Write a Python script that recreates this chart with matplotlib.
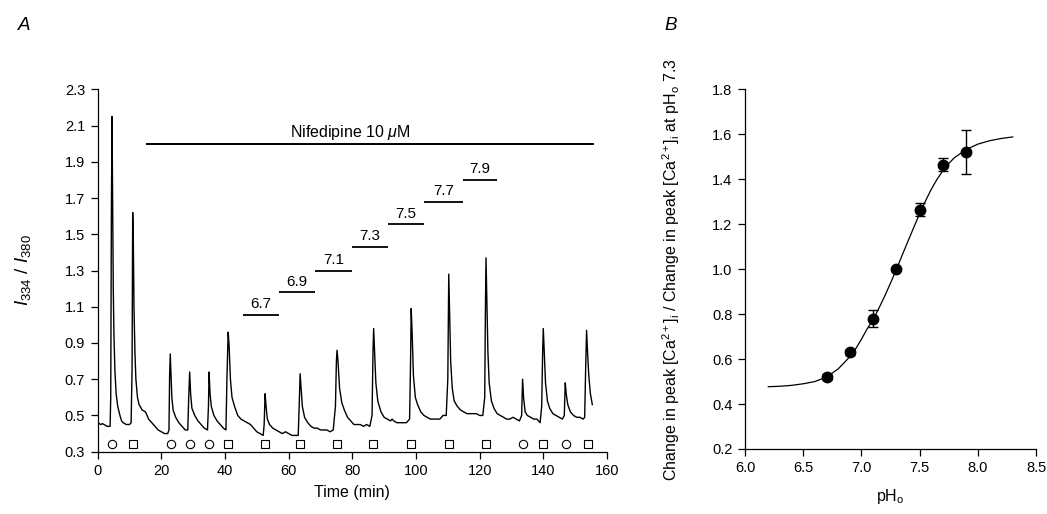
import matplotlib
matplotlib.use("Agg")
import matplotlib.pyplot as plt

plt.rcParams['font.family'] = ['Liberation Sans', 'DejaVu Sans']
plt.rcParams['mathtext.fontset'] = 'custom'
plt.rcParams['mathtext.rm'] = 'Liberation Sans'
plt.rcParams['mathtext.it'] = 'Liberation Sans:italic'
plt.rcParams['mathtext.bf'] = 'Liberation Sans:bold'

# ---------------- Panel A data ----------------
time_min = [0.0, 0.5, 1.0, 1.5, 2.0, 2.5, 3.0, 3.5, 3.9, 4.1, 4.3, 4.5, 4.7, 4.9, 5.1, 5.4, 5.8, 6.3, 7.0, 7.5,
            8.0, 9.0, 10.0, 10.5, 10.8, 11.0, 11.2, 11.4, 11.7, 12.0, 12.5, 13.0, 14.0, 15.0, 16.0, 17.0, 18.0,
            19.0, 20.0, 21.0, 22.0, 22.4, 22.6, 22.8, 23.0, 23.3, 23.7, 24.5, 25.5, 26.5, 27.5, 28.3, 28.6,
            28.9, 29.2, 29.6, 30.5, 31.5, 32.5, 33.5, 34.5, 34.8, 35.0, 35.3, 35.7, 36.5, 37.5, 38.5, 39.5,
            40.3, 40.6, 41.0, 41.3, 41.7, 42.2, 43.0, 44.0, 45.0, 46.0, 47.0, 48.0, 49.0, 50.0, 51.0, 52.0,
            52.3, 52.6, 52.9, 53.3, 54.0, 55.0, 56.0, 57.0, 58.0, 59.0, 60.0, 61.0, 62.0, 63.0, 63.3, 63.6,
            63.9, 64.3, 65.0, 66.0, 67.0, 68.0, 69.0, 70.0, 71.0, 72.0, 73.0, 74.0, 74.7, 75.0, 75.2, 75.5,
            76.0, 76.7, 77.5, 78.5, 79.5, 80.5, 81.5, 82.5, 83.5, 84.5, 85.5, 86.2, 86.5, 86.7, 87.0, 87.4,
            88.0, 89.0, 90.0, 91.0, 92.0, 92.5, 93.0, 94.0, 95.0, 96.0, 97.0, 98.0, 98.3, 98.5, 98.8, 99.2,
            99.8, 100.5, 101.5, 102.5, 103.5, 104.5, 105.5, 106.5, 107.5, 108.5, 109.5, 110.0, 110.3, 110.6,
            110.9, 111.4, 112.0, 113.0, 114.0, 115.0, 116.0, 117.0, 118.0, 119.0, 120.0, 121.0, 121.6, 121.8,
            122.0, 122.3, 122.6, 123.0, 123.7, 124.5, 125.5, 126.5, 127.5, 128.5, 129.5, 130.5, 131.5, 132.5,
            133.2, 133.5, 133.8, 134.3, 135.0, 136.0, 137.0, 138.0, 139.0, 139.5, 139.8, 140.0, 140.3, 140.7,
            141.3, 142.0, 143.0, 144.0, 145.0, 146.0, 146.6, 146.9, 147.2, 147.7, 148.5, 149.5, 150.5, 151.5,
            152.5, 153.0, 153.3, 153.6, 153.9, 154.3, 154.8, 155.4]
ratio = [0.46, 0.455, 0.45, 0.455, 0.45, 0.445, 0.44, 0.44, 0.44, 0.60, 1.60, 2.15, 1.65, 1.20, 0.95, 0.75, 0.62, 0.55, 0.50, 0.47,
         0.46, 0.45, 0.45, 0.46, 0.75, 1.62, 1.45, 1.10, 0.85, 0.70, 0.60, 0.56, 0.53, 0.52, 0.48, 0.46, 0.44,
         0.42, 0.41, 0.40, 0.40, 0.42, 0.72, 0.84, 0.75, 0.60, 0.53, 0.49, 0.46, 0.44, 0.42, 0.42, 0.60,
         0.74, 0.62, 0.54, 0.50, 0.47, 0.45, 0.43, 0.42, 0.55, 0.74, 0.62, 0.55, 0.50, 0.47, 0.45, 0.43,
         0.42, 0.70, 0.96, 0.88, 0.70, 0.60, 0.55, 0.50, 0.48, 0.47, 0.46, 0.45, 0.43, 0.41, 0.40, 0.39,
         0.45, 0.62, 0.55, 0.48, 0.45, 0.43, 0.42, 0.41, 0.40, 0.41, 0.40, 0.39, 0.39, 0.39, 0.55, 0.73,
         0.65, 0.55, 0.49, 0.46, 0.44, 0.43, 0.43, 0.42, 0.42, 0.42, 0.41, 0.42, 0.55, 0.80, 0.86, 0.80,
         0.65, 0.57, 0.53, 0.49, 0.47, 0.45, 0.45, 0.45, 0.44, 0.45, 0.44, 0.50, 0.85, 0.98, 0.85, 0.68,
         0.58, 0.52, 0.49, 0.48, 0.47, 0.48, 0.47, 0.46, 0.46, 0.46, 0.46, 0.48, 0.80, 1.09, 0.95, 0.72,
         0.60, 0.56, 0.52, 0.50, 0.49, 0.48, 0.48, 0.48, 0.48, 0.50, 0.50, 0.70, 1.28, 1.05,
         0.80, 0.65, 0.58, 0.55, 0.53, 0.52, 0.51, 0.51, 0.51, 0.51, 0.50, 0.50, 0.60, 1.05,
         1.37, 1.10, 0.85, 0.68, 0.58, 0.54, 0.51, 0.50, 0.49, 0.48, 0.48, 0.49, 0.48, 0.47,
         0.50, 0.70, 0.60, 0.52, 0.50, 0.49, 0.48, 0.48, 0.46, 0.55, 0.85, 0.98, 0.85, 0.68,
         0.58, 0.54, 0.51, 0.50, 0.49, 0.48, 0.50, 0.68, 0.62, 0.56, 0.52, 0.50, 0.49, 0.49,
         0.48, 0.49, 0.75, 0.97, 0.85, 0.72, 0.62, 0.56]

circle_times = [4.5, 22.9, 28.9, 35.0, 133.5, 147.0]
square_times = [11.1, 41.0, 52.5, 63.7, 75.2, 86.6, 98.5, 110.3, 122.0, 140.0, 154.0]
marker_level = 0.343

nifedipine_start, nifedipine_end, nifedipine_level = 15.3, 156.0, 2.0
nifedipine_text = "Nifedipine 10 $\\mu$M"
nifedipine_text_x = 79.5

ph_labels = ["6.7", "6.9", "7.1", "7.3", "7.5", "7.7", "7.9"]
ph_start = [45.5, 56.9, 68.4, 80.0, 91.2, 102.6, 114.7]
ph_end = [56.9, 68.4, 80.0, 91.2, 102.6, 114.7, 125.4]
ph_level = [1.055, 1.18, 1.30, 1.43, 1.555, 1.68, 1.80]

a_yticks = [0.3, 0.5, 0.7, 0.9, 1.1, 1.3, 1.5, 1.7, 1.9, 2.1, 2.3]
a_xticks = [0, 20, 40, 60, 80, 100, 120, 140, 160]

# ---------------- Panel B data ----------------
ph_points = [6.7, 6.9, 7.1, 7.3, 7.5, 7.7, 7.9]
rel_change = [0.52, 0.63, 0.78, 1.00, 1.265, 1.465, 1.52]
rel_err = [0.012, 0.012, 0.036, 0.0, 0.03, 0.03, 0.097]

fit_ph = [6.2, 6.3, 6.4, 6.5, 6.6, 6.7, 6.8, 6.9, 6.95, 7.0, 7.05, 7.1, 7.15, 7.2, 7.25, 7.3, 7.35, 7.4,
          7.45, 7.5, 7.55, 7.6, 7.65, 7.7, 7.75, 7.8, 7.9, 8.0, 8.1, 8.2, 8.3]
fit_val = [0.477, 0.479, 0.483, 0.490, 0.500, 0.520, 0.556, 0.610, 0.645, 0.688, 0.735, 0.775, 0.826, 0.880,
           0.938, 0.998, 1.062, 1.124, 1.186, 1.246, 1.303, 1.355, 1.400, 1.438, 1.470, 1.496, 1.532, 1.556,
           1.571, 1.581, 1.588]

b_xticks = [6.0, 6.5, 7.0, 7.5, 8.0, 8.5]
b_yticks = [0.2, 0.4, 0.6, 0.8, 1.0, 1.2, 1.4, 1.6, 1.8]

# ---------------- Figure ----------------
fig = plt.figure(figsize=(10.47, 5.14), dpi=100)
fig.patch.set_facecolor('white')

tick_fs = 10.5

def style_axes(ax):
    for s in ['top', 'right']:
        ax.spines[s].set_visible(False)
    for s in ['left', 'bottom']:
        ax.spines[s].set_linewidth(0.9)
    ax.tick_params(direction='out', length=5, width=0.9, labelsize=tick_fs, pad=4)

# Panel A
axA = fig.add_axes([0.0933, 0.1212, 0.4864, 0.705])
axA.plot(time_min, ratio, color='black', lw=1.0)
axA.plot(circle_times, [marker_level] * len(circle_times), linestyle='none', marker='o',
         markersize=6, markerfacecolor='white', markeredgecolor='black', markeredgewidth=0.8)
axA.plot(square_times, [marker_level] * len(square_times), linestyle='none', marker='s',
         markersize=5.5, markerfacecolor='white', markeredgecolor='black', markeredgewidth=0.8)
axA.hlines(nifedipine_level, nifedipine_start, nifedipine_end, color='black', lw=1.4)
axA.text(nifedipine_text_x, nifedipine_level + 0.012, nifedipine_text, ha='center', va='bottom', fontsize=11.5)
for lab, s, e, lv in zip(ph_labels, ph_start, ph_end, ph_level):
    axA.hlines(lv, s, e, color='black', lw=1.3)
    axA.text((s + e) / 2, lv + 0.02, lab, ha='center', va='bottom', fontsize=11)
axA.set_xlim(0, 160)
axA.set_ylim(0.3, 2.3)
axA.set_xticks(a_xticks)
axA.set_yticks(a_yticks)
axA.set_yticklabels([f"{v:.1f}" for v in a_yticks])
style_axes(axA)
axA.set_xlabel("Time (min)", fontsize=11.5, labelpad=5)
axA.set_ylabel(r"$I_{\mathrm{334}}$ / $I_{\mathrm{380}}$", fontsize=13.5)
axA.yaxis.set_label_coords(-0.127, 0.5)

# Panel B
axB = fig.add_axes([0.7116, 0.1265, 0.2779, 0.6998])
axB.plot(fit_ph, fit_val, color='black', lw=0.9)
axB.errorbar(ph_points, rel_change, yerr=rel_err, fmt='o', color='black', markersize=7.5,
             ecolor='black', elinewidth=1.0, capsize=3.5, capthick=1.0)
axB.set_xlim(6.0, 8.5)
axB.set_ylim(0.2, 1.8)
axB.set_xticks(b_xticks)
axB.set_xticklabels([f"{v:.1f}" for v in b_xticks])
axB.set_yticks(b_yticks)
axB.set_yticklabels([f"{v:.1f}" for v in b_yticks])
style_axes(axB)
axB.set_xlabel(r"pH$_{\mathrm{o}}$", fontsize=11.5, labelpad=8)
axB.set_ylabel(r"Change in peak [Ca$^{2+}$]$_{\mathrm{i}}$ / Change in peak [Ca$^{2+}$]$_{\mathrm{i}}$ at pH$_{\mathrm{o}}$ 7.3",
               fontsize=11.5)
axB.yaxis.set_label_coords(-0.216, 0.5)

fig.text(0.017, 0.951, "A", fontsize=13.5, style='italic', ha='left', va='center')
fig.text(0.635, 0.951, "B", fontsize=13.5, style='italic', ha='left', va='center')

fig.savefig("out.png", dpi=100, facecolor='white')
